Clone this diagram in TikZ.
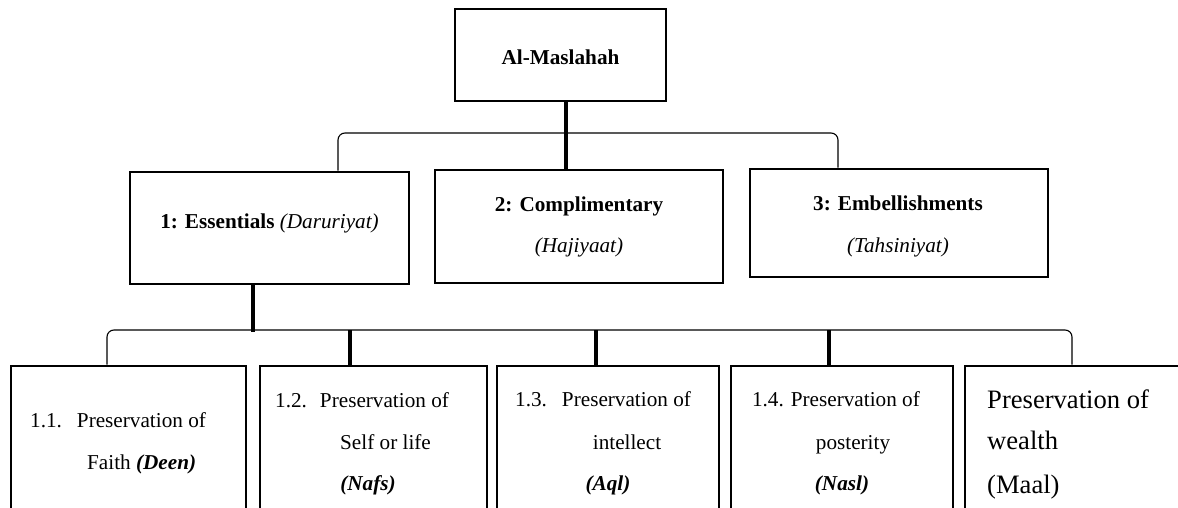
\documentclass[tikz,border=0pt]{standalone}
\usepackage{fontspec}
\setmainfont{Liberation Serif}
\newcommand\mainsz{\fontsize{21.2}{25}\selectfont}
\newcommand\bigsz{\fontsize{26.6}{31}\selectfont}
\begin{document}
\begin{tikzpicture}[x=1pt,y=-1pt,
  boxnode/.style={draw, line width=2.6pt, rectangle, inner sep=0pt},
  txt/.style={inner sep=0pt, font=\mainsz},
  bigtxt/.style={inner sep=0pt, font=\bigsz},
  thickc/.style={line width=4pt},
  bracket/.style={line width=1.1pt, rounded corners=7pt}]
\useasboundingbox (0,0) rectangle (1178,508);
\clip (0,0) rectangle (1178,508);
\fill[white] (0,0) rectangle (1178,508);

% top level
\node[boxnode, minimum width=211pt, minimum height=92pt] (top) at (560.5,55) {};
\node[txt, anchor=base, font=\mainsz\bfseries] (ttop) at (560.5,65) {Al-Maslahah};

% second level
\node[boxnode, minimum width=279pt, minimum height=112pt] (b1) at (269.5,228) {};
\node[txt, anchor=base] (tb1) at (269.5,228) {\textbf{1: Essentials} \textit{(Daruriyat)}};
\node[boxnode, minimum width=288pt, minimum height=113pt] (b2) at (579,226.5) {};
\node[txt, anchor=base] (tb2a) at (579,211) {\textbf{2: Complimentary}};
\node[txt, anchor=base] (tb2b) at (579,252) {\textit{(Hajiyaat)}};
\node[boxnode, minimum width=298pt, minimum height=108pt] (b3) at (899,223) {};
\node[txt, anchor=base] (tb3a) at (898,210) {\textbf{3: Embellishments}};
\node[txt, anchor=base] (tb3b) at (898,252) {\textit{(Tahsiniyat)}};

% third level
\node[boxnode, minimum width=235pt, minimum height=200pt] (p1) at (128.5,466) {};
\node[boxnode, minimum width=227pt, minimum height=200pt] (p2) at (373.5,466) {};
\node[boxnode, minimum width=222pt, minimum height=200pt] (p3) at (608,466) {};
\node[boxnode, minimum width=222pt, minimum height=200pt] (p4) at (842,466) {};
\node[boxnode, minimum width=235pt, minimum height=200pt] (p5) at (1082.5,466) {};

\node[txt, anchor=base west] (t11a) at (30,427) {1.1.\hspace{15pt}Preservation of};
\node[txt, anchor=base west] (t11b) at (87,469) {Faith \textbf{\textit{(Deen)}}};
\node[txt, anchor=base west] (t12a) at (275,407) {1.2.\hspace{13pt}Preservation of};
\node[txt, anchor=base west] (t12b) at (340,449) {Self or life};
\node[txt, anchor=base] (t12c) at (368,490) {\textbf{\textit{(Nafs)}}};
\node[txt, anchor=base west] (t13a) at (515,406) {1.3.\hspace{15pt}Preservation of};
\node[txt, anchor=base] (t13b) at (627,449) {intellect};
\node[txt, anchor=base] (t13c) at (608,490) {\textbf{\textit{(Aql)}}};
\node[txt, anchor=base east] (t14a) at (920,406) {1.4. Preservation of};
\node[txt, anchor=base] (t14b) at (853,449) {posterity};
\node[txt, anchor=base] (t14c) at (842,490) {\textbf{\textit{(Nasl)}}};
\node[bigtxt, anchor=base west] (t15a) at (987,408) {Preservation of};
\node[bigtxt, anchor=base west] (t15b) at (987,449) {wealth};
\node[bigtxt, anchor=base west] (t15c) at (987,493) {(Maal)};

% connectors
\coordinate (c0) at (566,0);
\draw[thickc] (top.south -| c0) -- (b2.north -| c0);
\coordinate (h1) at (338,133);
\coordinate (h3) at (838,133);
\draw[bracket] (h1 |- b1.north) -- (h1) -- (h3) -- (h3 |- b3.north);

\coordinate (c1) at (253,332);
\draw[thickc] (b1.south -| c1) -- (c1);
\coordinate (l1) at (107,330);
\coordinate (l5) at (1072,330);
\draw[bracket] (l1 |- p1.north) -- (l1) -- (l5) -- (l5 |- p5.north);
\coordinate (d2) at (350,330);
\coordinate (d3) at (596,330);
\coordinate (d4) at (829,330);
\draw[thickc] (d2) -- (d2 |- p2.north);
\draw[thickc] (d3) -- (d3 |- p3.north);
\draw[thickc] (d4) -- (d4 |- p4.north);
\end{tikzpicture}
\end{document}
